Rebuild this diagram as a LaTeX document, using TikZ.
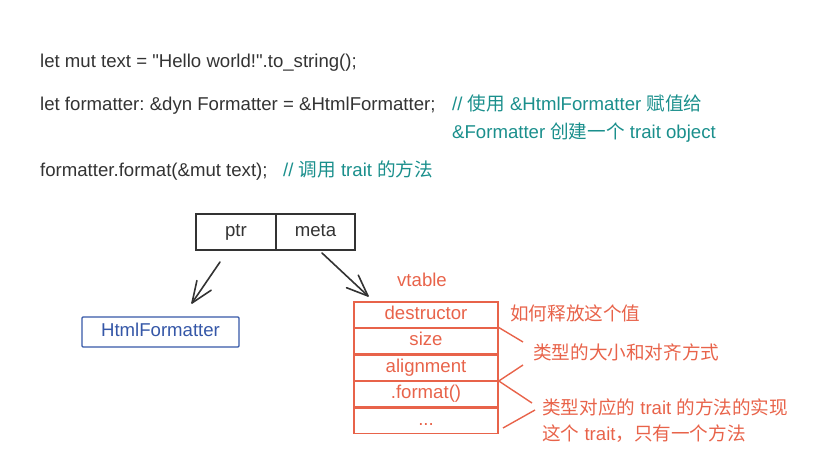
\documentclass[tikz,border=0pt]{standalone}
\usepackage{fontspec}
\setmainfont{Liberation Sans}[Ligatures=TeXOff]
\newfontfamily\cjk{Noto Sans CJK SC}
\usetikzlibrary{calc}
\frenchspacing
\definecolor{codegray}{HTML}{333333}
\definecolor{commteal}{HTML}{1A8F8C}
\definecolor{vorange}{HTML}{E8634A}
\definecolor{hblue}{HTML}{3557A7}
\tikzset{
  txt/.style={inner sep=0pt, anchor=base west},
  codetxt/.style={txt, text=codegray},
  commtxt/.style={txt, text=commteal},
  notetxt/.style={txt, text=vorange},
  cell/.style={draw=codegray, line width=1.5pt, minimum height=36pt, inner sep=0pt, text=codegray, text height=13.3pt, text depth=3.9pt},
  vrow/.style={draw=vorange, line width=1.5pt, minimum width=144pt, minimum height=25.5pt, inner sep=0pt, text=vorange, text height=13.3pt, text depth=3.9pt},
  ptrline/.style={draw=codegray, line width=1.6pt, line cap=round, line join=round},
  noteline/.style={draw=vorange, line width=1.4pt},
}
\begin{document}
\begin{tikzpicture}[x=1pt,y=-1pt,font=\fontsize{18.6}{22}\selectfont]
\useasboundingbox (0,0) rectangle (819,457);
% code lines
\node[codetxt] (l1) at (40,68) {let mut text = "Hello world!".to\_string();};
\node[codetxt] (l2) at (40,111) {let formatter: \&dyn Formatter = \&HtmlFormatter;};
\node[commtxt] (c2a) at (452,111) {// {\cjk 使用} \&HtmlFormatter {\cjk 赋值给}};
\node[commtxt] (c2b) at (452,139) {\&Formatter {\cjk 创建一个} trait object};
\node[codetxt] (l3) at (40,177) {formatter.format(\&mut text);};
\node[commtxt] (c3) at (283,177) {// {\cjk 调用} trait {\cjk 的方法}};
% fat pointer
\node[cell, minimum width=80pt] (ptr) at (236,232) {ptr};
\node[cell, minimum width=79pt] (meta) at (315.5,232) {meta};
% HtmlFormatter
\node[draw=hblue, line width=1.3pt, rounded corners=1pt, minimum width=157pt, minimum height=30pt, inner sep=0pt, text=hblue, text height=13.3pt, text depth=3.9pt] (hf) at (160.5,332) {HtmlFormatter};
% vtable
\node[inner sep=0pt, text=vorange] (vt) at (422,280) {vtable};
\node[vrow] (r1) at (426,314.5) {destructor};
\node[vrow] (r2) at (426,341) {size};
\node[vrow] (r3) at (426,367.5) {alignment};
\node[vrow] (r4) at (426,394) {.format()};
\node[vrow] (r5) at (426,420.5) {...};
% arrows (open V heads)
\coordinate (pa) at (220,262);
\coordinate (pb) at (192,303);
\coordinate (ma) at (322,253);
\coordinate (mb) at (368,296);
\draw[ptrline] (pa) -- (pb);
\draw[ptrline] ($(pb)!23pt!22:(pa)$) -- (pb) -- ($(pb)!23pt!-22:(pa)$);
\draw[ptrline] (ma) -- (mb);
\draw[ptrline] ($(mb)!23pt!22:(ma)$) -- (mb) -- ($(mb)!23pt!-22:(ma)$);
% annotations
\node[notetxt] (n1) at (510,320) {\cjk 如何释放这个值};
\node[notetxt] (n2) at (533,359.5) {\cjk 类型的大小和对齐方式};
\node[notetxt] (n3) at (542,414) {{\cjk 类型对应的} trait {\cjk 的方法的实现}};
\node[notetxt] (n4) at (542,440.5) {{\cjk 这个} trait{\cjk ，只有一个方法}};
\coordinate (e1) at (523,342);
\coordinate (e2) at (523,365);
\coordinate (e3) at (532,403);
\coordinate (s4) at (503,428);
\coordinate (e4) at (535,410);
\draw[noteline] (r2.north east) -- (e1);
\draw[noteline] (r3.south east) -- (e2);
\draw[noteline] (r3.south east) -- (e3);
\draw[noteline] (s4) -- (e4);
\end{tikzpicture}
\end{document}
